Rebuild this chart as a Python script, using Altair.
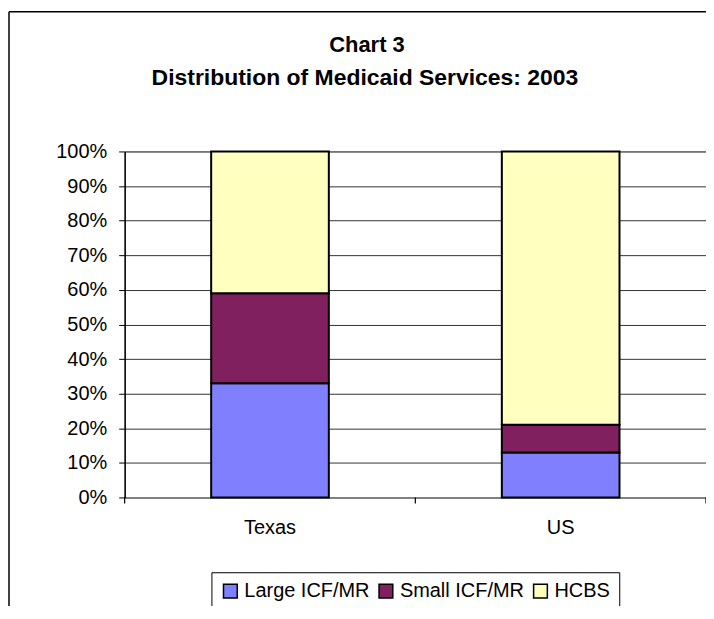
import altair as alt
import pandas as pd

regions = ["Texas", "US"]
services = ["Large ICF/MR", "Small ICF/MR", "HCBS"]
texas_vals = [0.33, 0.26, 0.41]
us_vals = [0.13, 0.08, 0.79]
colors = ["#8080FF", "#80205E", "#FFFFC0"]
y_ticks = [i / 10 for i in range(11)]
title_lines = ["Chart 3", "Distribution of Medicaid Services: 2003"]

rows = []
for region, vals in zip(regions, [texas_vals, us_vals]):
    for i, (s, v) in enumerate(zip(services, vals)):
        rows.append({"region": region, "service": s, "share": v, "order": i})
df = pd.DataFrame(rows)
reg_df = pd.DataFrame({"region": regions})
one = reg_df.head(1)

font = "Liberation Sans"
FS = 20

xscale = alt.Scale(domain=regions, paddingInner=0, paddingOuter=0)

bars = alt.Chart(df).mark_bar(stroke="black", strokeWidth=2, size=118).encode(
    x=alt.X("region:N", sort=regions, scale=xscale,
            axis=alt.Axis(title=None, labelAngle=0, labelFontSize=FS, labelFont=font,
                          labelColor="black", ticks=False, labelPadding=20,
                          domainColor="#808080", domainWidth=2)),
    y=alt.Y("share:Q", stack="zero", scale=alt.Scale(domain=[0, 1], nice=False),
            axis=alt.Axis(title=None, format=".0%", values=y_ticks, labelFontSize=FS,
                          labelFont=font, labelColor="black", tickColor="black",
                          tickSize=6, labelPadding=12, domainColor="black", domainWidth=1.5,
                          gridColor="#333333", gridOpacity=1, grid=True)),
    color=alt.Color("service:N", scale=alt.Scale(domain=services, range=colors),
                    legend=alt.Legend(title=None, orient="none", legendX=87, legendY=422,
                                      direction="horizontal", labelFontSize=FS,
                                      labelFont=font, labelColor="black",
                                      symbolType="square", symbolSize=190,
                                      symbolStrokeColor="black", symbolStrokeWidth=1.5,
                                      strokeColor="black", padding=9, columnPadding=6,
                                      labelOffset=4)),
    order=alt.Order("order:Q"),
)

xticks = alt.Chart(reg_df).mark_rule(color="black", strokeWidth=1.2).encode(
    x=alt.X("region:N", sort=regions, scale=xscale, bandPosition=0),
    y=alt.value(347), y2=alt.value(353)
)
xtick_end = alt.Chart(one).mark_rule(color="black", strokeWidth=1.2).encode(
    x=alt.value(583), y=alt.value(347), y2=alt.value(353)
)

frame = alt.Chart(one).mark_rule(color="black", strokeWidth=1.5).encode(
    x=alt.value(-116), y=alt.value(-140), y2=alt.value(470)
)
frame_top = alt.Chart(one).mark_rule(color="black", strokeWidth=1.5).encode(
    x=alt.value(-116), x2=alt.value(600), y=alt.value(-140)
)

title1 = alt.Chart(one).mark_text(
    text=title_lines[0], font=font, fontSize=22, fontWeight="bold", color="black",
    align="center", baseline="middle"
).encode(x=alt.value(243), y=alt.value(-107))
title2 = alt.Chart(one).mark_text(
    text=title_lines[1], font=font, fontSize=23, fontWeight="bold", color="black",
    align="center", baseline="middle"
).encode(x=alt.value(241), y=alt.value(-74))

chart = alt.layer(bars, xticks, xtick_end, frame, frame_top, title1, title2).properties(
    width=583, height=347,
    autosize=alt.AutoSizeParams(type="none"),
    padding={"left": 117, "top": 143, "right": 0, "bottom": 108},
).configure_view(stroke="#999999")

chart.save("out.html", embed_options={"renderer": "svg", "actions": False})
